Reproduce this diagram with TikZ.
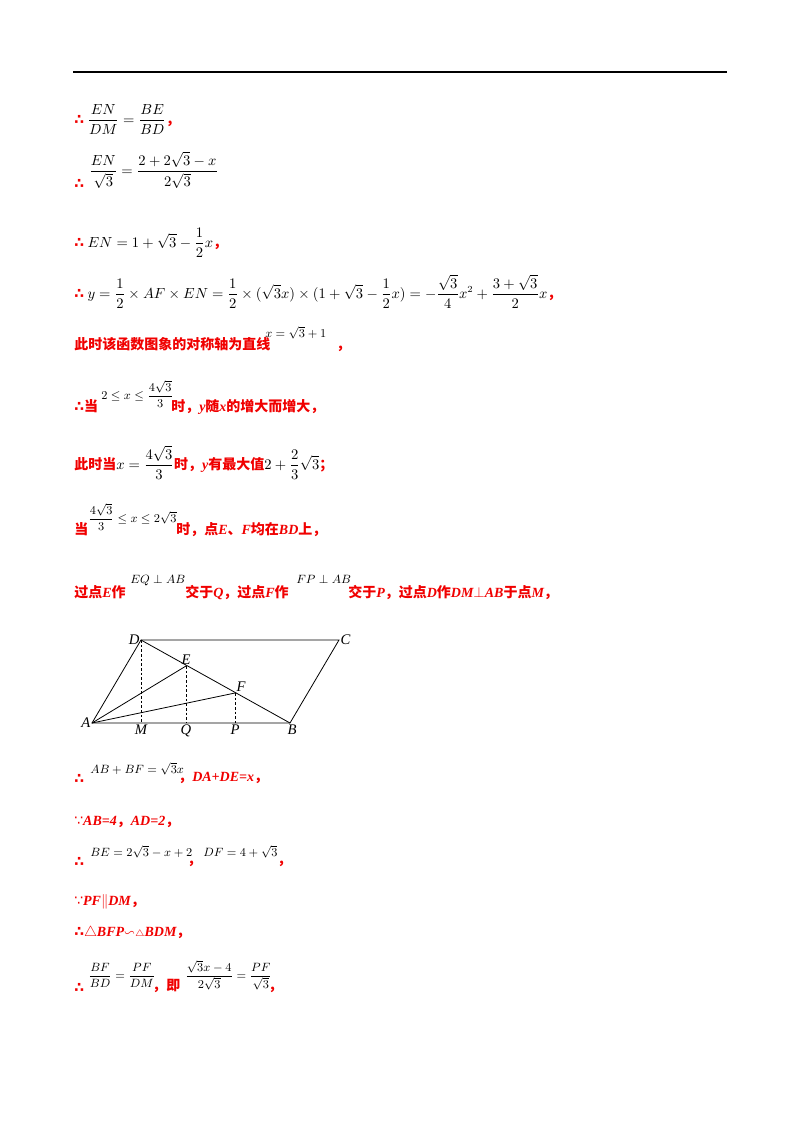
\documentclass[tikz,border=0pt]{standalone}
\usepackage{fontspec}
\setmainfont{Liberation Serif}
\newfontfamily\cjk{Noto Sans CJK SC}
\newfontfamily\djv{DejaVu Sans}
\usepackage{amsmath,amssymb}
\definecolor{rd}{RGB}{240,0,0}
\newcommand\hz[1]{{\cjk\bfseries\color{rd}#1}}
\newcommand\bim[1]{{\bfseries\itshape\color{rd}#1}}
\newcommand\tf{{\djv\bfseries\color{rd}∴}}
\newcommand\bc{{\djv\color{rd}∵}}
\begin{document}
\begin{tikzpicture}[x=0.75pt,y=-0.75pt,
  t/.style={anchor=base west,inner sep=0pt,font=\fontsize{10.5}{12}\selectfont},
  sm/.style={anchor=base west,inner sep=0pt,font=\fontsize{9.5}{10}\selectfont},
  lbl/.style={inner sep=1pt,font=\fontsize{11}{12}\selectfont\itshape},
  ln/.style={line width=0.6pt},
  dl/.style={line width=0.5pt,dashed,dash pattern=on 2pt off 1.5pt}]
\useasboundingbox (0,0) rectangle (800,1132);
\draw[line width=1.2pt] (73,72) -- (727,72);
% text lines
\node[t] (l1) at (74,124) {\tf\ $\dfrac{EN}{DM}=\dfrac{BE}{BD}$\hz{，}};
\node[t] (l2a) at (74,188) {\tf};
\node[t] (l2) at (89,175) {$\dfrac{EN}{\sqrt3}=\dfrac{2+2\sqrt3-x}{2\sqrt3}$};
\node[t] (l3) at (74,247) {\tf\ $EN=1+\sqrt3-\dfrac12x$\hz{，}};
\node[t] (l4) at (74,298) {\tf\ $y=\dfrac12\times AF\times EN=\dfrac12\times(\sqrt3x)\times(1+\sqrt3-\dfrac12x)=-\dfrac{\sqrt3}{4}x^2+\dfrac{3+\sqrt3}{2}x$\hz{，}};
\node[t] (l5) at (74,349) {\hz{此时该函数图象的对称轴为直线}};
\node[sm] (l5m) at (265,337) {$x=\sqrt3+1$};
\node[t] (l5c) at (336,349) {\hz{，}};
\node[t] (l6) at (74,411) {\tf\hz{当}};
\node[sm] (l6m) at (101,399) {$2\le x\le\dfrac{4\sqrt3}{3}$};
\node[t] (l6b) at (171,411) {\hz{时，}\bim{y}\hz{随}\bim{x}\hz{的增大而增大，}};
\node[t] (l7) at (74,469) {\hz{此时当}$x=\dfrac{4\sqrt3}{3}$\hz{时，}\bim{y}\hz{有最大值}$2+\dfrac23\sqrt3$\hz{；}};
\node[t] (l8) at (74,534) {\hz{当}};
\node[sm] (l8m) at (88,522) {$\dfrac{4\sqrt3}{3}\le x\le2\sqrt3$};
\node[t] (l8b) at (176,534) {\hz{时，点}\bim{E}\hz{、}\bim{F}\hz{均在}\bim{BD}\hz{上，}};
\node[t] (l9) at (74,597) {\hz{过点}\bim{E}\hz{作}};
\node[sm] (l9m) at (130,583) {$EQ\perp AB$};
\node[t] (l9b) at (185,597) {\hz{交于}\bim{Q}\hz{，过点}\bim{F}\hz{作}};
\node[sm] (l9n) at (296,583) {$FP\perp AB$};
\node[t] (l9c) at (348,597) {\hz{交于}\bim{P}\hz{，过点}\bim{D}\hz{作}\bim{DM}{\color{rd}$\perp$}\bim{AB}\hz{于点}\bim{M}\hz{，}};
% figure
\coordinate (A) at (92,723); \coordinate (B) at (290,723);
\coordinate (C) at (339,640); \coordinate (D) at (141,640);
\coordinate (E) at (186,666); \coordinate (F) at (235,693);
\coordinate (M) at (141,723); \coordinate (Q) at (186,723); \coordinate (P) at (235,723);
\draw[ln] (A) -- (B) -- (C) -- (D) -- cycle;
\draw[ln] (D) -- (B);
\draw[ln] (A) -- (E); \draw[ln] (A) -- (F);
\draw[dl] (D) -- (M); \draw[dl] (E) -- (Q); \draw[dl] (F) -- (P);
\node[lbl,anchor=east] (nA) at (A) {A};
\node[lbl,anchor=north west] (nB) at ([xshift=-3pt]B) {B};
\node[lbl,anchor=west] (nC) at (C) {C};
\node[lbl,anchor=east] (nD) at (D) {D};
\node[lbl,anchor=south] (nE) at (E) {E};
\node[lbl,anchor=south west] (nF) at (F) {F};
\node[lbl,anchor=north] (nM) at (M) {M};
\node[lbl,anchor=north] (nQ) at (Q) {Q};
\node[lbl,anchor=north] (nP) at (P) {P};
% after figure
\node[t] (l10a) at (74,783) {\tf};
\node[sm] (l10) at (90,773) {$AB+BF=\sqrt3x$};
\node[t] (l10b) at (178,781) {\hz{，}\bim{DA+DE=x}\hz{，}};
\node[t] (l11) at (74,825) {\bc\bim{AB=4}\hz{，}\bim{AD=2}\hz{，}};
\node[t] (l12a) at (74,866) {\tf};
\node[sm] (l12) at (90,856) {$BE=2\sqrt3-x+2$};
\node[t] (l12b) at (187,864) {\hz{，}};
\node[sm] (l12c) at (203,856) {$DF=4+\sqrt3$};
\node[t] (l12d) at (277,864) {\hz{，}};
\node[t] (l13) at (74,905) {\bc\bim{PF}{\color{rd}$\parallel$}\bim{DM}\hz{，}};
\node[t] (l14) at (74,936) {\tf{\color{rd}$\triangle$}\bim{BFP}{\color{rd}$\backsim$}{\color{rd}\scriptsize$\triangle$}\bim{BDM}\hz{，}};
\node[t] (l15a) at (74,992) {\tf};
\node[sm] (l15) at (88,979) {$\dfrac{BF}{BD}=\dfrac{PF}{DM}$};
\node[t] (l15b) at (152,990) {\hz{，即}};
\node[sm] (l15c) at (185,979) {$\dfrac{\sqrt3x-4}{2\sqrt3}=\dfrac{PF}{\sqrt3}$};
\node[t] (l15d) at (268,990) {\hz{，}};
\end{tikzpicture}
\end{document}
